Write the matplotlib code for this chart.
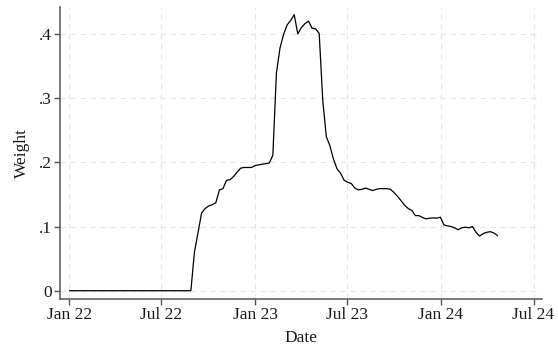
import matplotlib
matplotlib.use("Agg")
import matplotlib.pyplot as plt
import pandas as pd

# Leading flat segment (weight zero) then weekly observations
start_dates = ["2022-01-02"]
start_values = [0.0]

weekly_start = "2022-08-28"
weekly_values = [
    0.000, 0.060, 0.090, 0.121, 0.128, 0.132, 0.134, 0.137, 0.157, 0.159,
    0.172, 0.173, 0.178, 0.185, 0.191, 0.192, 0.192, 0.192, 0.195, 0.196,
    0.197, 0.198, 0.199, 0.211, 0.339, 0.378, 0.399, 0.414, 0.421, 0.430,
    0.400, 0.410, 0.416, 0.420, 0.409, 0.408, 0.401, 0.297, 0.240, 0.226,
    0.205, 0.190, 0.183, 0.172, 0.169, 0.167, 0.160, 0.157, 0.158, 0.160,
    0.158, 0.156, 0.158, 0.159, 0.159, 0.159, 0.158, 0.153, 0.147, 0.140,
    0.133, 0.128, 0.125, 0.117, 0.117, 0.114, 0.112, 0.113, 0.1135, 0.113,
    0.1145, 0.1025, 0.101, 0.100, 0.098, 0.095, 0.098, 0.099, 0.098, 0.100,
    0.091, 0.085, 0.089, 0.091, 0.092, 0.090, 0.086,
]

x_ticks = ["2022-01-01", "2022-07-01", "2023-01-01", "2023-07-01", "2024-01-01", "2024-07-01"]
x_tick_labels = ["Jan 22", "Jul 22", "Jan 23", "Jul 23", "Jan 24", "Jul 24"]
y_ticks = [0, 0.1, 0.2, 0.3, 0.4]
y_tick_labels = ["0", ".1", ".2", ".3", ".4"]

weekly_dates = pd.date_range(weekly_start, periods=len(weekly_values), freq="7D")
dates = list(pd.to_datetime(start_dates)) + list(weekly_dates)
values = start_values + weekly_values

plt.rcParams['font.family'] = ['Liberation Serif', 'DejaVu Serif']

fig = plt.figure(figsize=(5.58, 3.48), dpi=100)
ax = fig.add_axes([60/558, 1 - 299/348, (541.7-60)/558, (299-7)/348])

ax.plot(dates, values, color="black", lw=0.9, solid_joinstyle="round")

ax.set_xlim(pd.Timestamp("2021-12-14"), pd.Timestamp("2024-07-17"))
ax.set_ylim(-0.0129, 0.442)

ax.set_xticks(pd.to_datetime(x_ticks))
ax.set_xticklabels(x_tick_labels)
ax.set_yticks(y_ticks)
ax.set_yticklabels(y_tick_labels)

ax.grid(True, color="#e6e6e6", linestyle=(0, (5, 4)), linewidth=0.8)
ax.set_axisbelow(True)

for s in ["top", "right"]:
    ax.spines[s].set_visible(False)
for s in ["left", "bottom"]:
    ax.spines[s].set_color("#555555")
    ax.spines[s].set_linewidth(1.1)

ax.tick_params(axis="both", direction="out", length=4, width=1.0, color="#555555",
               labelsize=12.5, labelcolor="#1a1a1a", pad=2)

ax.set_xlabel("Date", fontsize=12.5, color="#1a1a1a", labelpad=5)
ax.set_ylabel("Weight", fontsize=12.5, color="#1a1a1a", labelpad=6)

fig.savefig("out.png", dpi=100, facecolor="white")
